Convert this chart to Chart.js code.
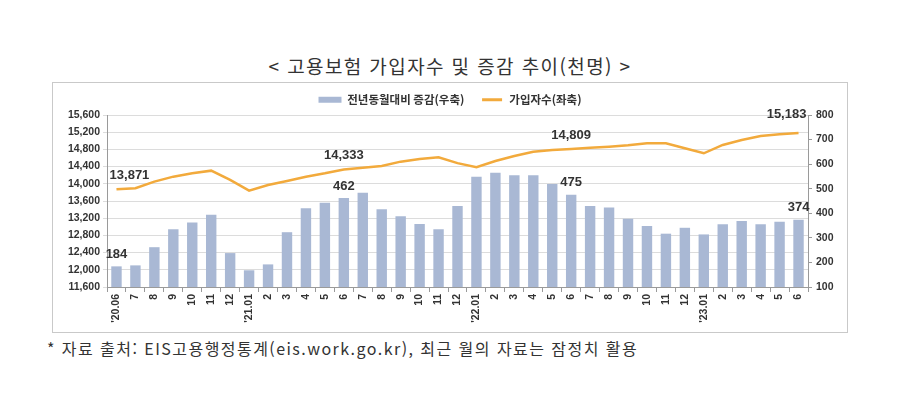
<!DOCTYPE html>
<html lang="ko">
<head>
<meta charset="utf-8">
<script src="https://cdn.jsdelivr.net/npm/chart.js@4.4.1/dist/chart.umd.min.js"></script>
<style>
  body { margin: 0; background: #fff; width: 900px; height: 406px; position: relative; font-family: "Noto Sans CJK KR", sans-serif; color: #333; }
  #title { position: absolute; left: 0; width: 900px; top: 52px; text-align: center; font-size: 19px; letter-spacing: 1.4px; }
  #box { position: absolute; left: 52px; top: 82px; width: 794px; height: 249px; border: 1px solid #c9c9c9; }
  #footer { position: absolute; left: 47px; top: 336px; font-size: 16px; letter-spacing: 1.45px; }
</style>
</head>
<body>
<div id="title">&lt; 고용보험 가입자수 및 증감 추이(천명) &gt;</div>
<div id="box"><canvas id="chart"></canvas></div>
<div id="footer">* 자료 출처: EIS고용행정통계(eis.work.go.kr), 최근 월의 자료는 잠정치 활용</div>
<script>
// 월별 라벨 ('20.06 ~ '23.06)
const months = ["'20.06","7","8","9","10","11","12",
  "'21.01","2","3","4","5","6","7","8","9","10","11","12",
  "'22.01","2","3","4","5","6","7","8","9","10","11","12",
  "'23.01","2","3","4","5","6"];

// 전년동월대비 증감 (우축, 천명)
const yoyChange = [184,188,262,335,362,394,238,
  168,192,323,420,443,462,484,416,388,356,335,430,
  549,565,555,555,519,475,430,424,378,348,317,341,
  314,355,369,355,366,374];

// 가입자수 (좌축, 천명)
const subscribers = [13871,13896,14050,14166,14244,14306,14089,
  13840,13972,14066,14166,14244,14333,14375,14414,14515,14577,14616,14480,
  14384,14531,14647,14747,14787,14809,14840,14864,14896,14942,14942,14826,
  14710,14903,15019,15112,15152,15183];

// 값 표시할 지점
const labeledPoints = [0, 12, 24, 36];

const fmt = (n) => n.toLocaleString('en-US');

const valueLabels = {
  id: 'valueLabels',
  afterDatasetsDraw(chart) {
    const ctx = chart.ctx;
    ctx.save();
    ctx.font = 'bold 13px "Liberation Sans", Arial, sans-serif';
    ctx.fillStyle = '#333';
    ctx.textAlign = 'center';
    ctx.textBaseline = 'middle';
    chart.data.datasets.forEach((ds, di) => {
      const meta = chart.getDatasetMeta(di);
      labeledPoints.forEach((i, k) => {
        const el = meta.data[i];
        if (!el) return;
        let dx = 0, dy = -12;
        if (ds.type === 'line') {
          dy = -14;
          if (k === 0) dx = 13;
          if (k === labeledPoints.length - 1) { dx = -12; dy = -19; }
        }
        ctx.fillText(fmt(ds.data[i]), el.x + dx, el.y + dy);
      });
    });
    ctx.restore();
  }
};

// 범례 아래 여백 고정
const legendSpace = {
  id: 'legendSpace',
  beforeInit(chart) {
    const origFit = chart.legend.fit;
    chart.legend.fit = function fit() {
      origFit.bind(chart.legend)();
      this.height = 32;
    };
  }
};

const tickFont = { family: '"Liberation Sans", Arial, sans-serif', size: 10.5, weight: 'bold' };

new Chart(document.getElementById('chart'), {
  data: {
    labels: months,
    datasets: [
      {
        type: 'bar',
        label: '전년동월대비 증감(우축)  ',
        data: yoyChange,
        yAxisID: 'yR',
        backgroundColor: '#a9b8d4',
        barPercentage: 0.55,
        categoryPercentage: 1,
        order: 1
      },
      {
        type: 'line',
        label: '가입자수(좌축)',
        data: subscribers,
        yAxisID: 'yL',
        borderColor: '#f2aa3c',
        backgroundColor: '#f2aa3c',
        borderWidth: 2.5,
        pointRadius: 0,
        tension: 0,
        order: 0
      }
    ]
  },
  options: {
    responsive: true,
    maintainAspectRatio: false,
    animation: false,
    layout: { padding: 0 },
    plugins: {
      tooltip: { enabled: false },
      legend: {
        position: 'top',
        labels: {
          font: { family: '"Noto Sans CJK KR", sans-serif', size: 11.5, weight: 'bold' },
          color: '#333',
          boxWidth: 23,
          boxHeight: 6,
          padding: 11,
          sort: (a, b) => a.datasetIndex - b.datasetIndex,
          generateLabels(chart) {
            const items = Chart.defaults.plugins.legend.labels.generateLabels(chart);
            items.forEach(it => {
              if (it.datasetIndex === 1) {
                it.fillStyle = '#f2aa3c';
                it.strokeStyle = '#ffffff';
                it.lineWidth = 3;
              } else {
                it.lineWidth = 0;
              }
            });
            return items;
          }
        }
      }
    },
    scales: {
      x: {
        grid: { display: true, drawOnChartArea: false, offset: true, tickLength: 5, color: '#9a9a9a' },
        border: { color: '#9a9a9a' },
        ticks: { font: tickFont, color: '#333', maxRotation: 90, minRotation: 90, autoSkip: false, padding: 2 },
        afterFit(scale) { scale.height = 45; }
      },
      yL: {
        position: 'left',
        min: 11600,
        max: 15600,
        ticks: { stepSize: 400, font: tickFont, color: '#333', padding: 3, callback: v => fmt(v) },
        grid: { color: '#dcdcdc', tickLength: 4 },
        border: { color: '#9a9a9a' },
        afterFit(scale) { scale.width = 54; }
      },
      yR: {
        position: 'right',
        min: 100,
        max: 800,
        ticks: { stepSize: 100, font: tickFont, color: '#333', padding: 4 },
        grid: { drawOnChartArea: false, tickLength: 4, color: '#9a9a9a' },
        border: { color: '#9a9a9a' },
        afterFit(scale) { scale.width = 39; }
      }
    }
  },
  plugins: [valueLabels, legendSpace]
});
</script>
</body>
</html>
